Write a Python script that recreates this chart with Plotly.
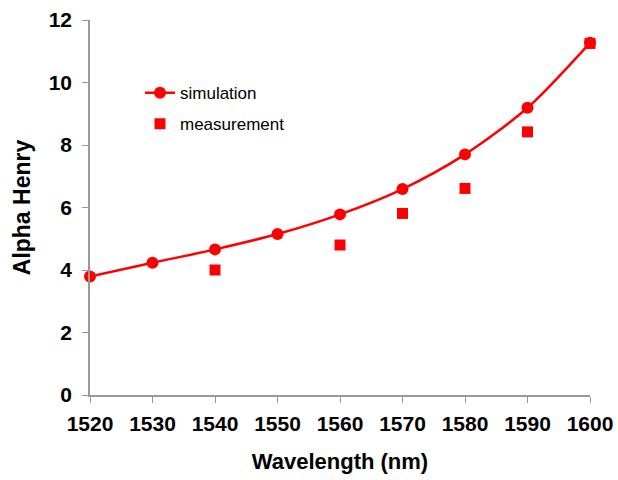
import plotly.graph_objects as go

wavelength_sim = [1520, 1530, 1540, 1550, 1560, 1570, 1580, 1590, 1600]
alpha_sim = [3.79, 4.23, 4.66, 5.15, 5.78, 6.59, 7.70, 9.19, 11.27]
wavelength_meas = [1540, 1560, 1570, 1580, 1590, 1600]
alpha_meas = [4.0, 4.8, 5.81, 6.61, 8.42, 11.25]
x_ticks = [1520, 1530, 1540, 1550, 1560, 1570, 1580, 1590, 1600]
y_ticks = [0, 2, 4, 6, 8, 10, 12]

red = "#ff0000"
fig = go.Figure()
fig.add_trace(go.Scatter(
    x=wavelength_sim, y=alpha_sim, mode="lines+markers", name="simulation",
    line=dict(color=red, width=2.5, shape="spline", smoothing=0.8),
    marker=dict(color=red, size=12, symbol="circle"),
    legend="legend", showlegend=True, cliponaxis=False))
fig.add_trace(go.Scatter(
    x=wavelength_meas, y=alpha_meas, mode="markers", name="measurement",
    marker=dict(color=red, size=11, symbol="square"),
    legend="legend2", showlegend=True, cliponaxis=False))

font_main = "Liberation Sans, Arial, sans-serif"
fig.update_layout(
    width=618, height=480,
    showlegend=True,
    margin=dict(l=90, r=28, t=20, b=85),
    paper_bgcolor="white", plot_bgcolor="white",
    font=dict(family=font_main, color="black"),
    legend=dict(x=0.1, y=0.805, xanchor="left", yanchor="middle",
                font=dict(size=17, family=font_main), bgcolor="rgba(0,0,0,0)"),
    legend2=dict(x=0.1, y=0.722, xanchor="left", yanchor="middle",
                 font=dict(size=17, family=font_main), bgcolor="rgba(0,0,0,0)"),
    xaxis=dict(range=[1520, 1600], tickvals=x_ticks, ticktext=[str(v) for v in x_ticks],
               showgrid=False, zeroline=False, showline=True, linecolor="#999999", linewidth=1.5,
               ticks="outside", ticklen=6, tickcolor="#999999", automargin=False,
               ticklabelstandoff=3,
               tickfont=dict(size=21, family=font_main, weight="bold"),
               title=dict(text="<b>Wavelength (nm)</b>", font=dict(size=22), standoff=20)),
    yaxis=dict(range=[0, 12], tickvals=y_ticks,
               showgrid=False, zeroline=False, showline=True, linecolor="#999999", linewidth=1.5,
               ticks="outside", ticklen=6, tickcolor="#999999", automargin=False,
               ticklabelstandoff=6,
               tickfont=dict(size=21, family=font_main, weight="bold"),
               title=dict(text="<b>Alpha Henry</b>", font=dict(size=23), standoff=12)),
)
fig.write_html("out.html", config={"displayModeBar": False},
               post_script="document.body.style.margin='0';document.body.style.overflow='hidden';")
